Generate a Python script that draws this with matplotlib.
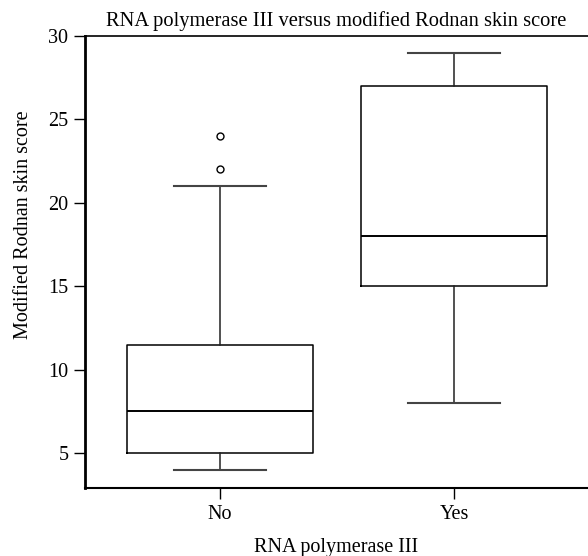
import matplotlib
matplotlib.use('Agg')
import matplotlib.pyplot as plt

plt.rcParams['font.family'] = ['Liberation Serif', 'DejaVu Serif']

# Box statistics
groups = ['No', 'Yes']
whislo = [4, 8]
q1 = [5, 15]
med = [7.5, 18]
q3 = [11.5, 27]
whishi = [21, 29]
fliers = [[22, 24], []]

stats = []
for i, g in enumerate(groups):
    stats.append(dict(label=g, whislo=whislo[i], q1=q1[i], med=med[i],
                      q3=q3[i], whishi=whishi[i], fliers=fliers[i]))

fs = 14.5

fig = plt.figure(figsize=(5.88, 5.56), dpi=100)
ax = fig.add_axes([85 / 588, 1 - 488 / 556, 1 - 85 / 588, (488 - 36) / 556])

ax.bxp(stats, positions=[1, 2], widths=0.795,
       boxprops=dict(color='black', linewidth=1.1),
       medianprops=dict(color='black', linewidth=1.4),
       whiskerprops=dict(color='#222222', linewidth=1.1),
       capprops=dict(color='#444444', linewidth=1.5),
       capwidths=0.395,
       flierprops=dict(marker='o', markersize=5, markerfacecolor='white',
                       markeredgecolor='black', markeredgewidth=1.0))

ax.set_xlim(0.423, 2.573)
ax.set_ylim(2.9, 30)
ax.set_yticks([5, 10, 15, 20, 25, 30])
ax.set_xticks([1, 2])
ax.set_xticklabels(groups)

ax.spines['right'].set_visible(False)
ax.spines['left'].set_linewidth(2.0)
ax.spines['bottom'].set_linewidth(1.5)
ax.spines['top'].set_linewidth(1.2)
ax.tick_params(direction='out', length=8, width=1.0, labelsize=fs, pad=4)

ax.set_title('RNA polymerase III versus modified Rodnan skin score',
             fontsize=fs + 0.3, pad=7)
ax.set_xlabel('RNA polymerase III', fontsize=fs, labelpad=10)
ax.set_ylabel('Modified Rodnan skin score', fontsize=fs, labelpad=11)
# the y label sits above the middle of the axis in the reference
ax.yaxis.label.set_y(0.582)

fig.savefig('out.png', dpi=100)
